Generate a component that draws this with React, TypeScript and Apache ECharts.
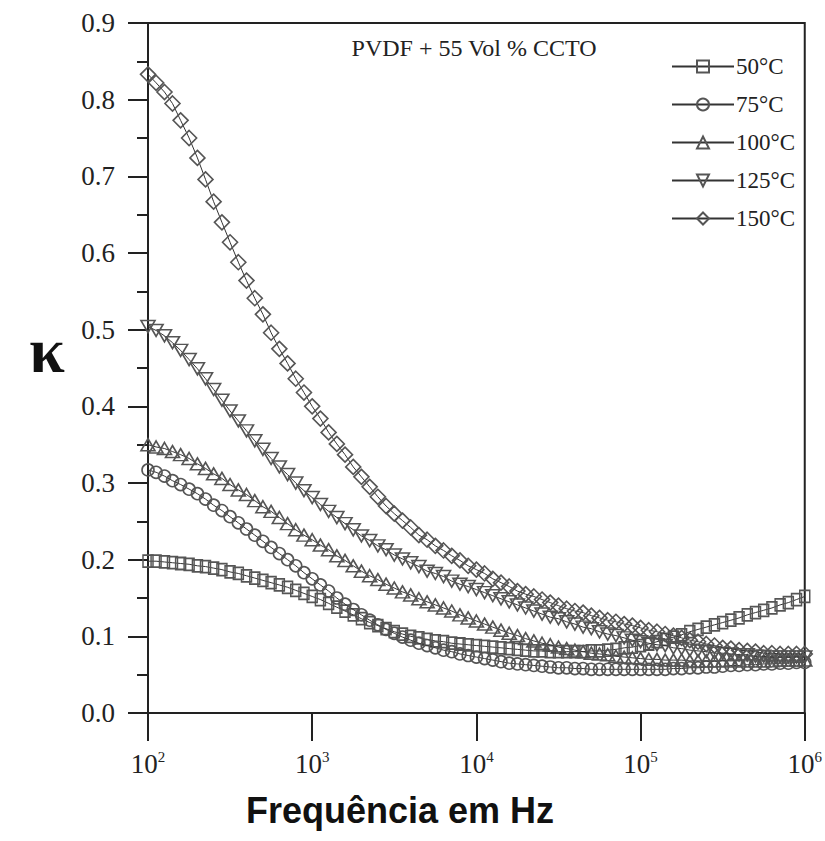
import React, { useEffect, useRef } from "react";
import * as echarts from "echarts";

const FREQ = [
  100, 112, 126, 141, 158, 178, 200, 224, 251, 282,
  316, 355, 398, 447, 501, 562, 631, 708, 794, 891,
  1000, 1122, 1259, 1413, 1585, 1778, 1995, 2239, 2512, 2818,
  3162, 3548, 3981, 4467, 5012, 5623, 6310, 7079, 7943, 8913,
  10000, 11220, 12589, 14125, 15849, 17783, 19953, 22387, 25119, 28184,
  31623, 35481, 39811, 44668, 50119, 56234, 63096, 70795, 79433, 89125,
  100000, 112202, 125893, 141254, 158489, 177828, 199526, 223872, 251189, 281838,
  316228, 354813, 398107, 446684, 501187, 562341, 630957, 707946, 794328, 891251,
  1000000,
];

const K50 = [
  0.198, 0.198, 0.197, 0.196, 0.195, 0.194, 0.192, 0.191, 0.189, 0.187,
  0.184, 0.182, 0.179, 0.176, 0.173, 0.170, 0.167, 0.164, 0.160, 0.156,
  0.152, 0.148, 0.143, 0.138, 0.133, 0.128, 0.123, 0.118, 0.114, 0.110,
  0.106, 0.103, 0.100, 0.098, 0.096, 0.094, 0.093, 0.091, 0.090, 0.089,
  0.088, 0.087, 0.086, 0.085, 0.084, 0.083, 0.082, 0.081, 0.081, 0.080,
  0.080, 0.080, 0.080, 0.080, 0.081, 0.081, 0.082, 0.083, 0.085, 0.086,
  0.088, 0.090, 0.093, 0.096, 0.099, 0.102, 0.106, 0.109, 0.112, 0.115,
  0.118, 0.121, 0.124, 0.128, 0.131, 0.134, 0.137, 0.141, 0.144, 0.148,
  0.152,
];

const K75 = [
  0.317, 0.314, 0.309, 0.303, 0.298, 0.292, 0.286, 0.279, 0.271, 0.264,
  0.256, 0.248, 0.240, 0.232, 0.224, 0.216, 0.208, 0.200, 0.192, 0.183,
  0.175, 0.167, 0.159, 0.150, 0.142, 0.135, 0.128, 0.121, 0.115, 0.109,
  0.104, 0.099, 0.095, 0.091, 0.088, 0.085, 0.082, 0.080, 0.077, 0.075,
  0.073, 0.071, 0.069, 0.067, 0.065, 0.064, 0.063, 0.062, 0.061, 0.060,
  0.059, 0.059, 0.058, 0.058, 0.057, 0.057, 0.057, 0.057, 0.057, 0.057,
  0.057, 0.057, 0.057, 0.057, 0.058, 0.058, 0.059, 0.059, 0.060, 0.060,
  0.061, 0.062, 0.062, 0.063, 0.063, 0.064, 0.064, 0.065, 0.065, 0.066,
  0.066,
];

const K100 = [
  0.350, 0.347, 0.345, 0.341, 0.337, 0.332, 0.325, 0.319, 0.312, 0.306,
  0.298, 0.291, 0.285, 0.277, 0.269, 0.263, 0.255, 0.247, 0.239, 0.232,
  0.226, 0.219, 0.213, 0.205, 0.199, 0.192, 0.185, 0.179, 0.174, 0.168,
  0.163, 0.158, 0.154, 0.149, 0.145, 0.141, 0.137, 0.133, 0.128, 0.124,
  0.120, 0.116, 0.112, 0.108, 0.104, 0.101, 0.097, 0.094, 0.091, 0.089,
  0.086, 0.084, 0.082, 0.080, 0.078, 0.077, 0.076, 0.074, 0.073, 0.072,
  0.071, 0.070, 0.070, 0.069, 0.069, 0.069, 0.068, 0.068, 0.068, 0.068,
  0.068, 0.068, 0.068, 0.068, 0.068, 0.068, 0.068, 0.069, 0.069, 0.069,
  0.069,
];

const K125 = [
  0.504, 0.499, 0.492, 0.483, 0.473, 0.461, 0.449, 0.436, 0.422, 0.408,
  0.394, 0.381, 0.368, 0.355, 0.344, 0.332, 0.321, 0.311, 0.300, 0.290,
  0.281, 0.272, 0.263, 0.255, 0.247, 0.239, 0.231, 0.225, 0.218, 0.213,
  0.206, 0.201, 0.196, 0.191, 0.185, 0.182, 0.178, 0.172, 0.168, 0.165,
  0.161, 0.157, 0.153, 0.149, 0.145, 0.141, 0.137, 0.133, 0.129, 0.125,
  0.123, 0.119, 0.116, 0.112, 0.110, 0.106, 0.103, 0.101, 0.098, 0.095,
  0.093, 0.091, 0.089, 0.088, 0.085, 0.084, 0.082, 0.081, 0.080, 0.078,
  0.078, 0.077, 0.076, 0.076, 0.074, 0.074, 0.073, 0.073, 0.073, 0.073,
  0.073,
];

const K150 = [
  0.833, 0.822, 0.810, 0.795, 0.773, 0.750, 0.724, 0.696, 0.667, 0.640,
  0.614, 0.588, 0.564, 0.541, 0.520, 0.496, 0.475, 0.456, 0.436, 0.418,
  0.400, 0.384, 0.366, 0.351, 0.337, 0.321, 0.308, 0.295, 0.282, 0.270,
  0.260, 0.251, 0.242, 0.232, 0.226, 0.218, 0.212, 0.205, 0.199, 0.192,
  0.187, 0.182, 0.175, 0.170, 0.165, 0.159, 0.155, 0.152, 0.148, 0.144,
  0.140, 0.136, 0.133, 0.131, 0.127, 0.124, 0.121, 0.119, 0.116, 0.114,
  0.111, 0.108, 0.106, 0.103, 0.101, 0.098, 0.095, 0.093, 0.090, 0.088,
  0.085, 0.084, 0.082, 0.081, 0.080, 0.078, 0.078, 0.077, 0.077, 0.077,
  0.077,
];

const SERIES_NAMES = ["50°C", "75°C", "100°C", "125°C", "150°C"];
const TITLE = "PVDF + 55 Vol % CCTO";
const X_LABEL = "Frequência em Hz";
const Y_LABEL = "κ";

const SERIF = "'Liberation Serif', 'Times New Roman', serif";
const SANS = "'Liberation Sans', Arial, sans-serif";

export default function App() {
  const ref = useRef<HTMLDivElement>(null);

  useEffect(() => {
    if (!ref.current) return;
    const chart = echarts.init(ref.current, null, { renderer: "svg" });

    const values = [K50, K75, K100, K125, K150];
    const symbols: any[] = [
      { symbol: "rect", size: [10, 12] },
      { symbol: "circle", size: 12 },
      { symbol: "triangle", size: [14, 12] },
      { symbol: "path://M0,0 L10,0 L5,9 Z", size: [14, 12] },
      { symbol: "diamond", size: [15, 15] },
    ];

    const series = values.map((vals, si) => ({
      name: SERIES_NAMES[si],
      type: "line",
      data: FREQ.map((f, i) => [f, vals[i]]),
      symbol: symbols[si].symbol,
      symbolSize: symbols[si].size,
      showAllSymbol: true,
      lineStyle: { color: "#333", width: 1 },
      itemStyle: { color: "rgba(255,255,255,0)", borderColor: "#555", borderWidth: 1.6 },
      emphasis: { disabled: true },
      z: 2 + si,
    }));

    chart.setOption({
      animation: false,
      backgroundColor: "#ffffff",
      grid: {
        left: 148,
        top: 23,
        width: 659,
        height: 690,
        show: true,
        borderColor: "#222",
        borderWidth: 2,
        backgroundColor: "transparent",
      },
      legend: {
        orient: "vertical",
        left: 666,
        top: 50,
        itemWidth: 62,
        itemHeight: 15,
        itemGap: 15,
        data: SERIES_NAMES,
        textStyle: { fontFamily: SERIF, fontSize: 23, color: "#222", padding: [0, 0, 0, -3] },
        selectedMode: false,
      },
      xAxis: {
        type: "log",
        logBase: 10,
        min: 100,
        max: 1000000,
        axisLine: { show: true, onZero: false, lineStyle: { color: "#222", width: 2 } },
        axisTick: { show: true, inside: false, length: 28, lineStyle: { color: "#222", width: 2 } },
        minorTick: { show: false },
        splitLine: { show: false },
        axisLabel: {
          margin: 36,
          color: "#222",
          formatter: (v: number) => `{b|10}{s|${Math.round(Math.log10(v))}}`,
          rich: {
            b: { fontFamily: SERIF, fontSize: 27, color: "#222" },
            s: { fontFamily: SERIF, fontSize: 15, color: "#222", padding: [0, 0, 14, 0] },
          },
        },
      },
      yAxis: {
        type: "value",
        min: 0,
        max: 0.9,
        interval: 0.1,
        axisLine: { show: true, onZero: false, lineStyle: { color: "#222", width: 2 } },
        axisTick: { show: true, inside: false, length: 20, lineStyle: { color: "#222", width: 2 } },
        minorTick: { show: true, splitNumber: 2, length: 11, lineStyle: { color: "#222", width: 2 } },
        splitLine: { show: false },
        axisLabel: {
          margin: 33,
          color: "#222",
          fontFamily: SERIF,
          fontSize: 27,
          formatter: (v: number) => v.toFixed(1),
        },
      },
      graphic: [
        {
          type: "text",
          x: 474,
          y: 48,
          style: {
            text: TITLE,
            font: `24px ${SERIF}`,
            fill: "#222",
            align: "center",
            verticalAlign: "middle",
          },
        },
        {
          type: "text",
          x: 400,
          y: 810,
          style: {
            text: X_LABEL,
            font: `bold 36px ${SANS}`,
            fill: "#111",
            align: "center",
            verticalAlign: "middle",
          },
        },
        {
          type: "text",
          x: 47,
          y: 350,
          style: {
            text: Y_LABEL,
            font: `bold 64px ${SERIF}`,
            fill: "#111",
            align: "center",
            verticalAlign: "middle",
          },
        },
      ],
      series,
    });

    return () => chart.dispose();
  }, []);

  return (
    <div
      ref={ref}
      style={{ position: "absolute", left: 0, top: 0, width: 825, height: 841, background: "#fff" }}
    />
  );
}
